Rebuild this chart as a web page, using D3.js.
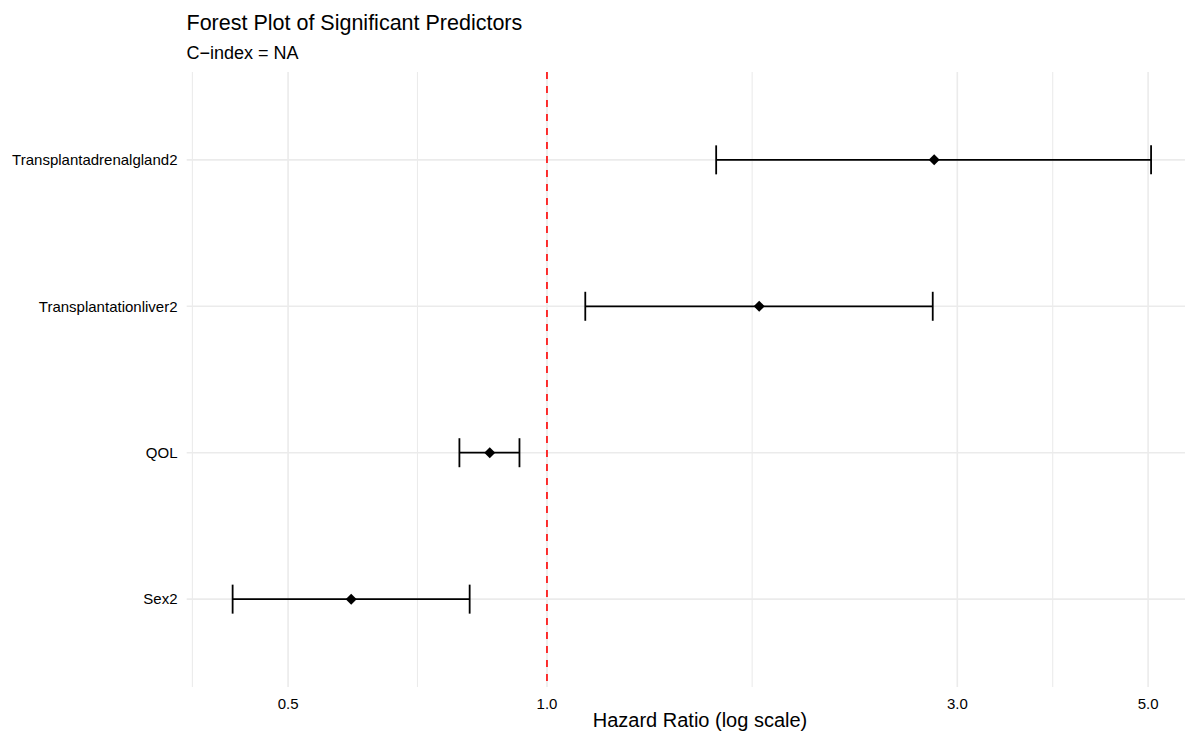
<!DOCTYPE html>
<html>
<head>
<meta charset="utf-8">
<script src="https://cdn.jsdelivr.net/npm/d3@7"></script>
<style>
  body { margin: 0; background: #fff; }
  svg { display: block; font-family: "Liberation Sans", Arial, sans-serif; }
</style>
</head>
<body>
<div id="chart"></div>
<script>
// values
var predictors = ["Transplantadrenalgland2", "Transplantationliver2", "QOL", "Sex2"];
var hazard = [2.82, 1.765, 0.858, 0.592];
var lower = [1.573, 1.108, 0.791, 0.431];
var upper = [5.04, 2.809, 0.929, 0.813];
var tickValues = [0.5, 1, 3, 5];
var tickLabels = ["0.5", "1.0", "3.0", "5.0"];
var minorValues = [0.387, 0.707, 1.732, 3.873];

var width = 1185, height = 734;
var panel = { left: 186.7, right: 1197, top: 72, bottom: 687 };

var svg = d3.select("#chart").append("svg")
    .attr("width", width)
    .attr("height", height);

// log x with 5% expansion like ggplot
var lo = Math.log(d3.min(lower)), hi = Math.log(d3.max(upper));
var pad = (hi - lo) * 0.05;
var x = d3.scaleLog()
    .domain([Math.exp(lo - pad), Math.exp(hi + pad)])
    .range([panel.left, panel.right]);

var y = d3.scalePoint()
    .domain(predictors)
    .range([panel.top, panel.bottom])
    .padding(0.6);

// grid
svg.append("g").selectAll("line.minor")
    .data(minorValues)
    .enter().append("line")
    .attr("x1", function(d) { return x(d); })
    .attr("x2", function(d) { return x(d); })
    .attr("y1", panel.top).attr("y2", panel.bottom)
    .attr("stroke", "#ebebeb").attr("stroke-width", 1.1);

svg.append("g").selectAll("line.major")
    .data(tickValues)
    .enter().append("line")
    .attr("x1", function(d) { return x(d); })
    .attr("x2", function(d) { return x(d); })
    .attr("y1", panel.top).attr("y2", panel.bottom)
    .attr("stroke", "#ebebeb").attr("stroke-width", 1.6);

svg.append("g").selectAll("line.hgrid")
    .data(predictors)
    .enter().append("line")
    .attr("x1", panel.left).attr("x2", panel.right)
    .attr("y1", function(d) { return y(d); })
    .attr("y2", function(d) { return y(d); })
    .attr("stroke", "#ebebeb").attr("stroke-width", 1.6);

// reference line at HR = 1
svg.append("line")
    .attr("x1", x(1)).attr("x2", x(1))
    .attr("y1", panel.top).attr("y2", panel.bottom)
    .attr("stroke", "#ff0000")
    .attr("stroke-width", 1.6)
    .attr("stroke-dasharray", "7,7");

// error bars
var rows = predictors.map(function(p, i) {
    return { name: p, hr: hazard[i], lo: lower[i], hi: upper[i] };
});

var bars = svg.append("g").selectAll("g")
    .data(rows)
    .enter().append("g");

bars.append("line")
    .attr("x1", function(d) { return x(d.lo); })
    .attr("x2", function(d) { return x(d.hi); })
    .attr("y1", function(d) { return y(d.name); })
    .attr("y2", function(d) { return y(d.name); })
    .attr("stroke", "#000").attr("stroke-width", 1.8);

["lo", "hi"].forEach(function(k) {
    bars.append("line")
        .attr("x1", function(d) { return x(d[k]); })
        .attr("x2", function(d) { return x(d[k]); })
        .attr("y1", function(d) { return y(d.name) - 14.5; })
        .attr("y2", function(d) { return y(d.name) + 14.5; })
        .attr("stroke", "#000").attr("stroke-width", 1.8);
});

bars.append("path")
    .attr("d", "M0,-5.5L5.5,0L0,5.5L-5.5,0Z")
    .attr("transform", function(d) { return "translate(" + x(d.hr) + "," + y(d.name) + ")"; })
    .attr("fill", "#000");

// axis labels
svg.append("g").selectAll("text")
    .data(predictors)
    .enter().append("text")
    .attr("x", 177.5)
    .attr("y", function(d) { return y(d); })
    .attr("dy", "0.35em")
    .attr("text-anchor", "end")
    .style("font-size", "15px")
    .style("fill", "#000")
    .text(function(d) { return d; });

svg.append("g").selectAll("text")
    .data(tickValues)
    .enter().append("text")
    .attr("x", function(d) { return x(d); })
    .attr("y", 708.5)
    .attr("text-anchor", "middle")
    .style("font-size", "15px")
    .style("fill", "#000")
    .text(function(d, i) { return tickLabels[i]; });

svg.append("text")
    .attr("x", 700)
    .attr("y", 727)
    .attr("text-anchor", "middle")
    .style("font-size", "20px")
    .text("Hazard Ratio (log scale)");

svg.append("text")
    .attr("x", 186.5)
    .attr("y", 30)
    .style("font-size", "21.5px")
    .text("Forest Plot of Significant Predictors");

svg.append("text")
    .attr("x", 186.5)
    .attr("y", 58.5)
    .style("font-size", "18px")
    .text("C\u2212index = NA");
</script>
</body>
</html>
